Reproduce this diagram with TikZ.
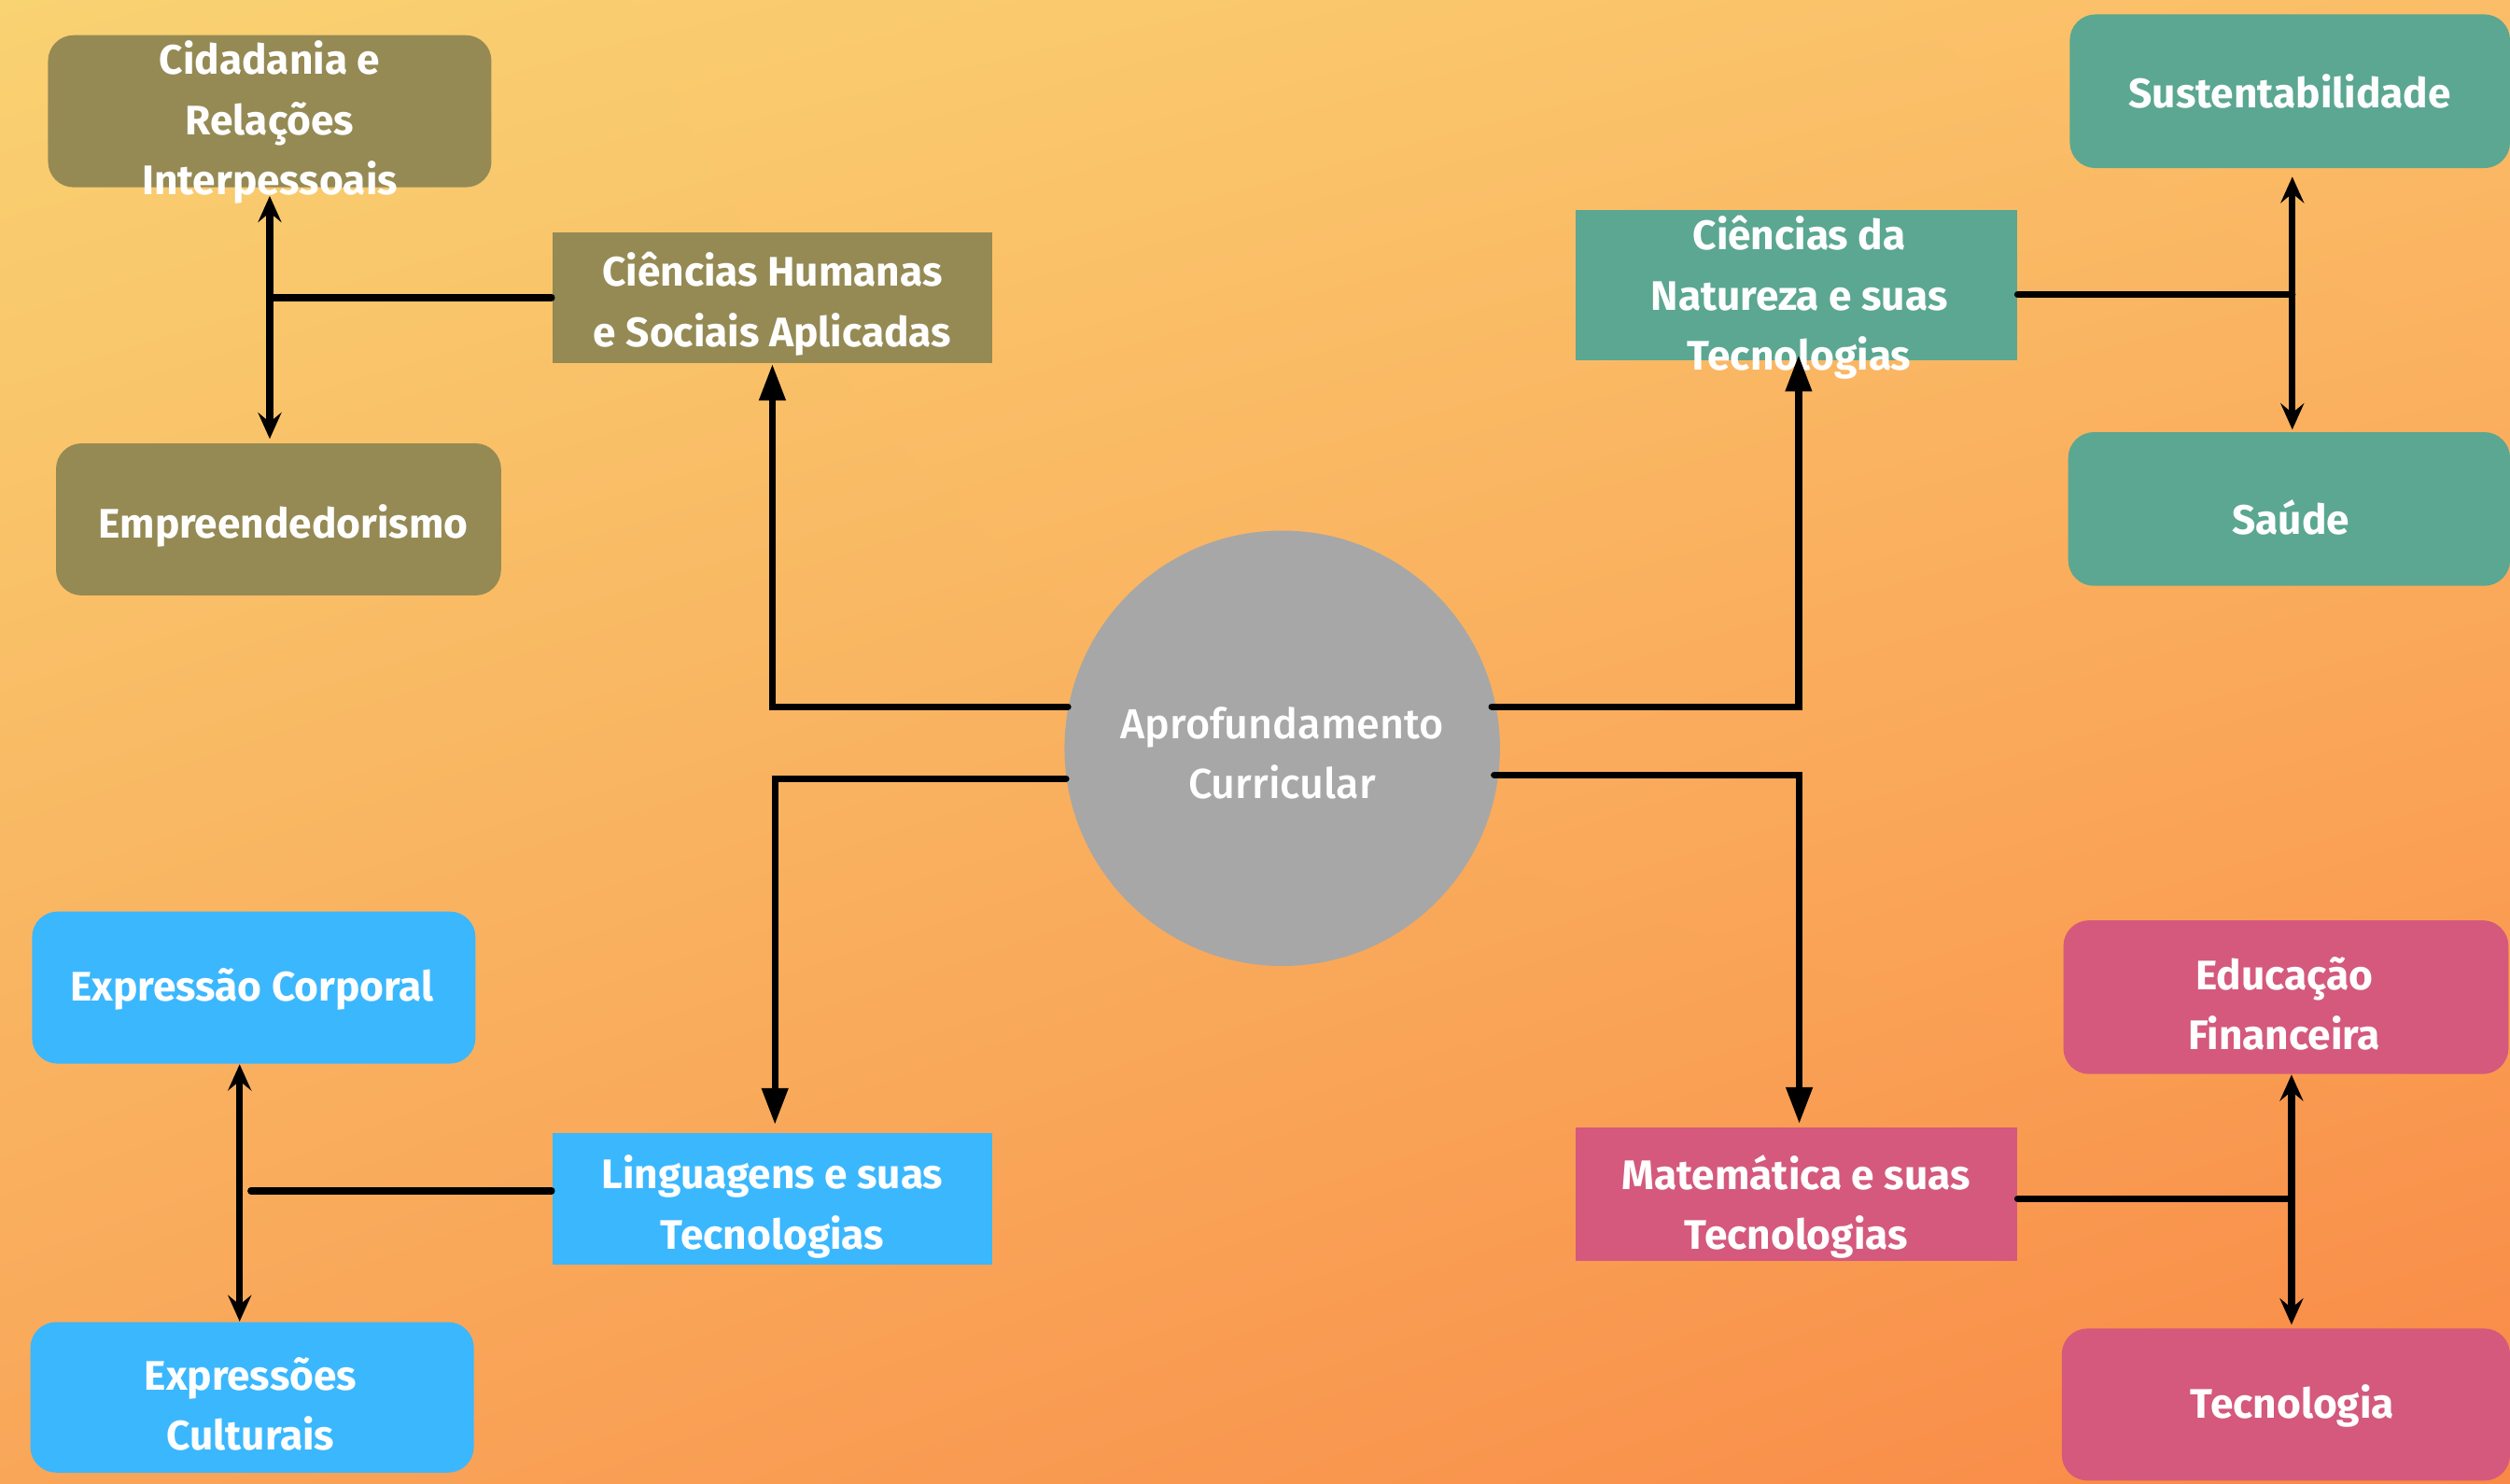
\documentclass[tikz,border=0pt]{standalone}
\usepackage{fontspec}
\setmainfont{Fira Sans}
\newfontfamily\lblfont{Fira Sans}
\newfontfamily\ctrfont{Fira Sans}[UprightFont={* Medium}]
\usetikzlibrary{arrows.meta,calc,shadings}
\definecolor{bgUL}{HTML}{F9D272}
\definecolor{bgUR}{HTML}{FBBD67}
\definecolor{bgLL}{HTML}{F9A659}
\definecolor{bgLR}{HTML}{F98946}
\definecolor{olive}{HTML}{958A54}
\definecolor{teal}{HTML}{5BA791}
\definecolor{skyb}{HTML}{3BB7FE}
\definecolor{pinkc}{HTML}{D4597D}
\definecolor{grayc}{HTML}{A7A7A7}
\begin{document}
\begin{tikzpicture}[x=0.5pt,y=-0.5pt,
  rbox/.style={rounded corners=8pt, minimum width=138.5pt, minimum height=47.5pt, inner sep=0pt},
  sbox/.style={minimum width=137.5pt, minimum height=41pt, inner sep=0pt},
  lbl/.style={text=white, font=\lblfont\bfseries\fontsize{12.9pt}{18.75pt}\selectfont, align=center, inner sep=0pt},
  conn/.style={line width=2.1pt, black, line cap=round},
  arr/.style={conn, -{Triangle[length=11.4pt,width=7.9pt]}},
  darr/.style={conn, {Stealth[length=8.2pt,width=7.3pt,inset=3pt]}-{Stealth[length=8.2pt,width=7.3pt,inset=3pt]}}
]
\useasboundingbox (0,0) rectangle (1568,927);
\clip (0,0) rectangle (1568,927);
\shade[upper left=bgUL, upper right=bgUR, lower left=bgLL, lower right=bgLR] (0,0) rectangle (1568,927);

% boxes
\node[rbox, fill=olive] (cid) at (168.5,69.5) {};
\node[rbox, fill=olive, minimum width=139pt] (emp) at (174,324.5) {};
\node[sbox, fill=olive] (hum) at (482.5,186) {};
\node[sbox, fill=teal, minimum width=138pt, minimum height=47pt] (nat) at (1122,178) {};
\node[rbox, fill=teal, minimum width=137.5pt, minimum height=48pt] (sus) at (1430.5,57) {};
\node[rbox, fill=teal, minimum width=138pt, minimum height=48pt] (sau) at (1430,318) {};
\node[circle, fill=grayc, minimum size=136pt, inner sep=0pt] (circ) at (801,467.5) {};
\node[rbox, fill=skyb] (expc) at (158.5,617) {};
\node[sbox, fill=skyb] (lin) at (482.5,749) {};
\node[rbox, fill=skyb, minimum height=47pt] (expcu) at (157.5,873) {};
\node[sbox, fill=pinkc, minimum width=138pt, minimum height=41.5pt] (mat) at (1122,746) {};
\node[rbox, fill=pinkc, minimum width=139pt, minimum height=48pt] (edu) at (1428,623) {};
\node[rbox, fill=pinkc, minimum width=140pt] (tec) at (1428,877.5) {};

% labels
\node[lbl] (cidt) at ($(cid)+(0,7)$) {Cidadania e\\Relações\\Interpessoais};
\node[lbl] (empt) at ($(emp)+(3,4)$) {Empreendedorismo};
\node[lbl] (humt) at ($(hum)+(0,4)$) {Ciências Humanas\\e Sociais Aplicadas};
\node[lbl] (natt) at ($(nat)+(2,8)$) {Ciências da\\Natureza e suas\\Tecnologias};
\node[lbl] (sust) at ($(sus)+(0,0)$) {Sustentabilidade};
\node[lbl] (saut) at ($(sau)+(1,5)$) {Saúde};
\node[text=white, font=\ctrfont\fontsize{13.1pt}{18.5pt}\selectfont, align=center, inner sep=0pt] (circt) at ($(circ)+(0,3)$) {Aprofundamento\\Curricular};
\node[lbl] (expct) at ($(expc)+(-1,1)$) {Expressão Corporal};
\node[lbl] (lint) at ($(lin)+(0,5)$) {Linguagens e suas\\Tecnologias};
\node[lbl] (expcut) at ($(expcu)+(-1,4)$) {Expressões\\Culturais};
\node[lbl] (matt) at ($(mat)+(0,8)$) {Matemática e suas\\Tecnologias};
\node[lbl] (edut) at ($(edu)+(-1,4)$) {Educação\\Financeira};
\node[lbl] (tect) at ($(tec)+(4,1)$) {Tecnologia};

% centre connectors
\draw[arr] (circ.169.6) -| (hum.south);
\draw[arr, shorten >=2.5pt] (circ.188) -| ([xshift=0.8pt]lin.north);
\draw[arr, shorten >=-1.8pt] ([xshift=-1.5pt]circ.11.1) -| ([xshift=0.8pt]nat.south);
\draw[arr, shorten >=1pt] ([xshift=-1.5pt]circ.-7.2) -| ([xshift=1pt]mat.north);

% left top
\draw[conn] (hum.west) -- (hum.west -| cid.south);
\draw[darr] ([yshift=-2.5pt]cid.south) -- ([yshift=1.2pt]cid.south |- emp.north);
% right top
\coordinate (rtv) at (1432,184);
\draw[conn] ([yshift=-3pt]nat.east) -- (rtv);
\draw[darr] ([yshift=-2.5pt]rtv |- sus.south) -- ([yshift=0.6pt]rtv |- sau.north);
% left bottom
\coordinate (lbh) at (156.7,744);
\draw[conn] ([yshift=2.5pt]lin.west) -- (lbh);
\draw[darr] ([xshift=-4.4pt]expc.south) -- ([xshift=-4.4pt]expc.south |- expcu.north);
% right bottom
\coordinate (rbv) at (1431.5,749);
\draw[conn] ([yshift=-1.5pt]mat.east) -- (rbv);
\draw[darr] (rbv |- edu.south) -- ([yshift=1pt]rbv |- tec.north);
\end{tikzpicture}
\end{document}
